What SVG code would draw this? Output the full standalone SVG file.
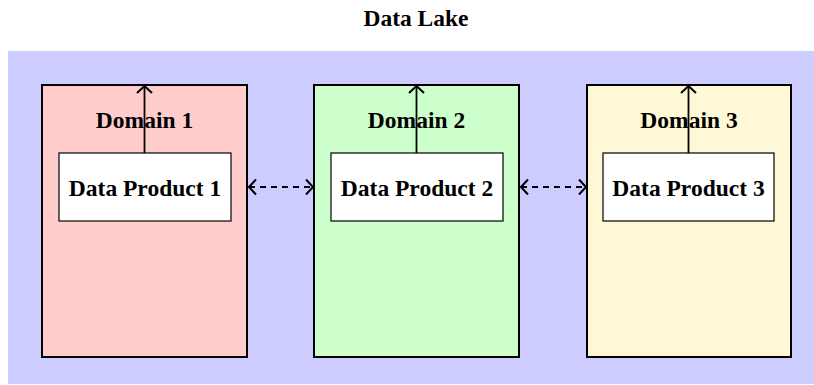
<svg xmlns="http://www.w3.org/2000/svg" width="814" height="385" viewBox="0 0 814 385">
<defs>
<marker id="open" viewBox="-1 -1 10 18" refX="7.5" refY="8" markerWidth="10" markerHeight="18" markerUnits="userSpaceOnUse" orient="auto-start-reverse">
<path d="M0.5,0.5 L7.5,8 L0.5,15.5" fill="none" stroke="#000" stroke-width="2"/>
</marker>
<style>
text{font-family:"Liberation Serif","Times New Roman",serif;font-weight:bold;font-size:23.5px;text-anchor:middle;fill:#000}
.dom{stroke:#000;stroke-width:2}
.dp{fill:#fff;stroke:#000;stroke-width:1.2}
.up{stroke:#000;stroke-width:1.8;fill:none;marker-end:url(#open)}
.dash{stroke:#000;stroke-width:2;fill:none;stroke-dasharray:6,5;marker-start:url(#open);marker-end:url(#open)}
</style>
</defs>
<rect width="814" height="385" fill="#fff"/>
<text x="416" y="26">Data Lake</text>
<g id="datalake">
<rect x="8" y="51" width="806" height="333" fill="#ccccff"/>
</g>
<g id="domain1">
<rect class="dom" x="42" y="85" width="205" height="272" fill="#ffcccc"/>
<text x="144.5" y="128">Domain 1</text>
</g>
<g id="domain2">
<rect class="dom" x="314" y="85" width="205" height="272" fill="#ccffcc"/>
<text x="416.5" y="128">Domain 2</text>
</g>
<g id="domain3">
<rect class="dom" x="587" y="85" width="204" height="272" fill="#fff8d6"/>
<text x="689" y="128">Domain 3</text>
</g>
<g id="dp1">
<rect class="dp" x="59" y="153" width="172" height="68"/>
<text x="145" y="196">Data Product 1</text>
</g>
<g id="dp2">
<rect class="dp" x="331" y="153" width="172" height="68"/>
<text x="417" y="196">Data Product 2</text>
</g>
<g id="dp3">
<rect class="dp" x="603" y="153" width="171" height="68"/>
<text x="688.5" y="196">Data Product 3</text>
</g>
<g id="connectors">
<line class="up" x1="144.5" y1="153" x2="144.5" y2="86"/>
<line class="up" x1="416.5" y1="153" x2="416.5" y2="86"/>
<line class="up" x1="688.5" y1="153" x2="688.5" y2="86"/>
<line class="dash" x1="249" y1="187" x2="313" y2="187"/>
<line class="dash" x1="521" y1="187" x2="586" y2="187"/>
</g>
</svg>
